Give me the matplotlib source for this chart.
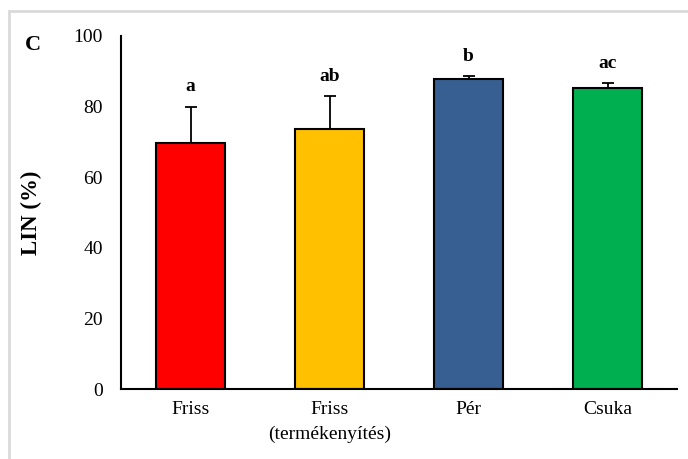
import matplotlib
matplotlib.use("Agg")
import matplotlib.pyplot as plt
from matplotlib.patches import Rectangle

categories = ["Friss", "Friss\n(termékenyítés)", "Pér", "Csuka"]
values = [69.8, 73.6, 87.8, 85.2]
errors = [10.2, 9.3, 0.8, 1.4]
letters = ["a", "ab", "b", "ac"]
colors = ["#ff0000", "#ffc000", "#375f91", "#00b050"]
yticks = [0, 20, 40, 60, 80, 100]

plt.rcParams['font.family'] = ['Liberation Serif', 'DejaVu Serif']

fig = plt.figure(figsize=(6.88, 4.59), dpi=100)
ax = fig.add_axes([121/688, 1-389/459, (677-121)/688, (389-36)/459])

x = list(range(len(categories)))
ax.bar(x, values, width=0.5, color=colors, edgecolor="black", linewidth=1.5, zorder=2)
ax.errorbar(x, values, yerr=[[0]*len(errors), errors], fmt="none", ecolor="black",
            elinewidth=1.3, capsize=4, capthick=1.3, zorder=3)
for xi, v, e, l in zip(x, values, errors, letters):
    ax.text(xi, v + e + 3.2, l, ha="center", va="bottom", fontsize=14, fontweight="bold")

ax.set_xlim(-0.5, 3.5)
ax.set_ylim(0, 100)
ax.set_yticks(yticks)
ax.set_xticks(x)
ax.set_xticklabels(categories, fontsize=14, linespacing=1.55)
ax.tick_params(axis="y", labelsize=14, length=0, pad=13)
ax.tick_params(axis="x", length=0, pad=9)
for s in ["top", "right"]:
    ax.spines[s].set_visible(False)
ax.spines["left"].set_linewidth(1.5)
ax.spines["bottom"].set_linewidth(1.5)
ax.set_ylabel("LIN (%)", fontsize=16.5, fontweight="bold", labelpad=23)

fig.text(25/688, 1-45/459, "C", fontsize=16, fontweight="bold", va="center", ha="left")
fig.patches.append(Rectangle((9/688, -0.01), 1.0, 1-11/459 + 0.01, transform=fig.transFigure,
                             fill=False, edgecolor="#d9d9d9", linewidth=2))

fig.savefig("out.png", dpi=100)
